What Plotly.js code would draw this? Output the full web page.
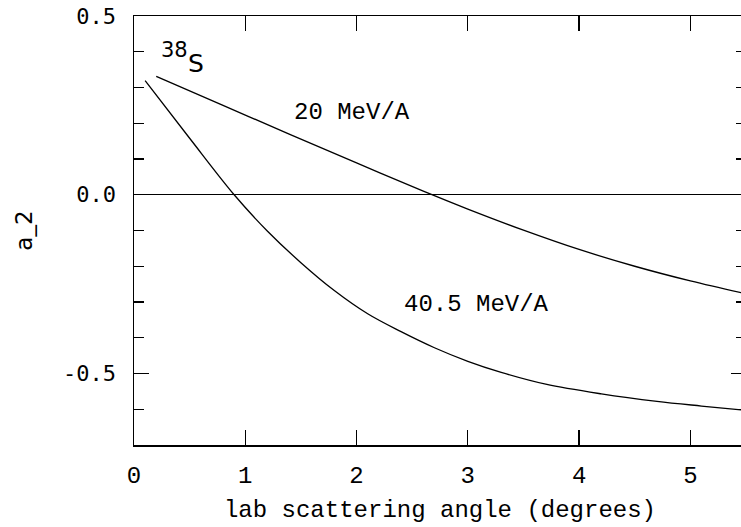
<!DOCTYPE html>
<html>
<head>
<meta charset="utf-8">
<script src="https://cdn.plot.ly/plotly-3.0.1.min.js"></script>
<style>
html,body{margin:0;padding:0;overflow:hidden;background:#fff;}
#chart{width:746px;height:527px;}
</style>
</head>
<body>
<div id="chart"></div>
<script>
// 20 MeV/A curve
const angle20 = [0.2, 0.8, 1.4, 2.0, 2.6, 3.0, 3.5, 4.0, 4.5, 5.0, 5.5];
const a2_20   = [0.331, 0.250, 0.169, 0.089, 0.010, -0.040, -0.099, -0.153, -0.200, -0.241, -0.277];
// 40.5 MeV/A curve
const angle40 = [0.1, 0.5, 0.9, 1.2, 1.5, 1.8, 2.1, 2.4, 2.7, 3.0, 3.3, 3.7, 4.2, 4.7, 5.1, 5.5];
const a2_40   = [0.319, 0.158, 0.0, -0.102, -0.19, -0.268, -0.333, -0.383, -0.428, -0.466, -0.497, -0.530, -0.557, -0.578, -0.591, -0.603];

const xTickVals = [0, 1, 2, 3, 4, 5];
const yTickVals = [-0.5, 0.0, 0.5];
const yTickText = ["-0.5", "0.0", "0.5"];

const monoSerif = "Liberation Mono, Courier New, monospace";
const monoSans = "DejaVu Sans Mono, monospace";

const traces = [
  {x: angle20, y: a2_20, mode: 'lines', line: {color: '#000', width: 1.3, shape: 'spline', smoothing: 1}, hoverinfo: 'skip'},
  {x: angle40, y: a2_40, mode: 'lines', line: {color: '#000', width: 1.3, shape: 'spline', smoothing: 1}, hoverinfo: 'skip'}
];

const layout = {
  width: 746, height: 527,
  margin: {l: 134, r: 0, t: 16, b: 82},
  paper_bgcolor: '#fff', plot_bgcolor: '#fff',
  showlegend: false,
  xaxis: {
    range: [0, 5.5], tickvals: xTickVals, ticktext: xTickVals.map(String),
    ticks: 'inside', ticklen: 15, tickwidth: 1.2, tickcolor: '#000',
    showline: true, linecolor: '#000', linewidth: 1.5, mirror: 'ticks',
    showgrid: false, zeroline: false,
    tickfont: {family: monoSerif, size: 24, color: '#000'},
    ticklabelstandoff: 8,
    title: {text: 'lab scattering angle (degrees)', font: {family: monoSerif, size: 24, color: '#000'}, standoff: 11}
  },
  yaxis: {
    range: [-0.7, 0.5], tickvals: yTickVals, ticktext: yTickText,
    ticks: 'inside', ticklen: 15, tickwidth: 1.2, tickcolor: '#000',
    minor: {dtick: 0.1, tick0: 0, ticks: 'inside', ticklen: 10, tickwidth: 1.2, tickcolor: '#000', showgrid: false},
    showline: true, linecolor: '#000', linewidth: 1.5, mirror: 'ticks',
    showgrid: false, zeroline: true, zerolinecolor: '#000', zerolinewidth: 1.3,
    tickfont: {family: monoSans, size: 22, color: '#000'},
    ticklabelstandoff: 12,
    title: {text: 'a_2', font: {family: 'DejaVu Sans, sans-serif', size: 23, color: '#000'}, standoff: 24}
  },
  annotations: [
    {x: 1.96, y: 0.231, xref: 'x', yref: 'y', text: '20 MeV/A', showarrow: false,
     font: {family: monoSerif, size: 24, color: '#000'}},
    {x: 3.08, y: -0.308, xref: 'x', yref: 'y', text: '40.5 MeV/A', showarrow: false,
     font: {family: monoSerif, size: 24, color: '#000'}},
    {x: 0.368, y: 0.405, xref: 'x', yref: 'y', text: '38', showarrow: false,
     font: {family: 'DejaVu Sans, sans-serif', size: 21, color: '#000'}},
    {x: 0.557, y: 0.366, xref: 'x', yref: 'y', text: 'S', showarrow: false,
     font: {family: 'DejaVu Sans, sans-serif', size: 25, color: '#000'}}
  ]
};

Plotly.newPlot('chart', traces, layout, {displayModeBar: false, staticPlot: true});
</script>
</body>
</html>
